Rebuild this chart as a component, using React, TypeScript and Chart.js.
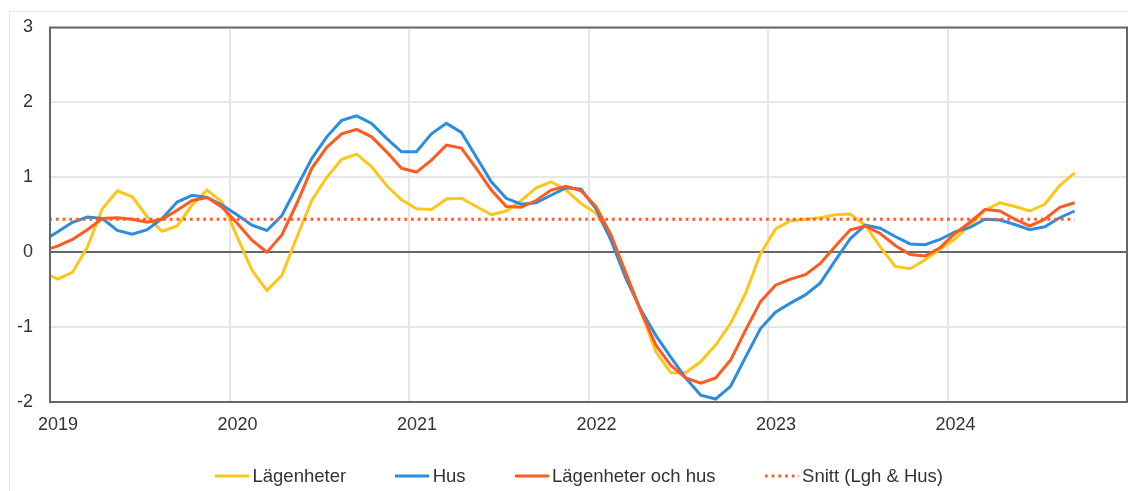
import React, { useEffect, useRef } from "react";
import { Chart, registerables } from "chart.js";

Chart.register(...registerables);

// Monthly observations (mid-month). The first one (Dec 2018) is clipped by the plot edge.
const FIRST_YEAR = 2018;
const FIRST_MONTH = 12;
const months: string[] = Array.from({ length: 70 }, (_, i) => {
  const t = FIRST_YEAR * 12 + (FIRST_MONTH - 1) + i;
  const y = Math.floor(t / 12);
  const m = (t % 12) + 1;
  return `${y}-${String(m).padStart(2, "0")}`;
});

const lagenheter = [
  -0.26, -0.36, -0.27, 0.07, 0.58, 0.82, 0.74, 0.47, 0.28, 0.35, 0.63, 0.83, 0.67,
  0.21, -0.24, -0.51, -0.31, 0.2, 0.69, 1.0, 1.24, 1.31, 1.14, 0.89, 0.7,
  0.58, 0.57, 0.71, 0.72, 0.61, 0.5, 0.55, 0.69, 0.86, 0.94, 0.83, 0.65,
  0.52, 0.2, -0.28, -0.79, -1.33, -1.61, -1.61, -1.46, -1.24, -0.95, -0.55, -0.02,
  0.31, 0.42, 0.44, 0.46, 0.5, 0.51, 0.36, 0.07, -0.19, -0.22, -0.1, 0.04,
  0.18, 0.36, 0.56, 0.66, 0.61, 0.55, 0.64, 0.89, 1.06,
];

const hus = [
  0.15, 0.27, 0.4, 0.47, 0.45, 0.29, 0.24, 0.3, 0.45, 0.67, 0.76, 0.73, 0.63,
  0.5, 0.36, 0.29, 0.49, 0.87, 1.25, 1.54, 1.76, 1.82, 1.72, 1.52, 1.34,
  1.34, 1.58, 1.72, 1.6, 1.27, 0.94, 0.72, 0.64, 0.66, 0.76, 0.86, 0.84,
  0.58, 0.16, -0.35, -0.77, -1.11, -1.4, -1.68, -1.91, -1.96, -1.79, -1.4, -1.02,
  -0.8, -0.68, -0.57, -0.41, -0.11, 0.18, 0.36, 0.32, 0.21, 0.11, 0.1, 0.17,
  0.27, 0.33, 0.44, 0.43, 0.37, 0.3, 0.34, 0.46, 0.55,
];

const lghOchHus = [
  0.02, 0.08, 0.17, 0.3, 0.45, 0.46, 0.44, 0.4, 0.44, 0.56, 0.69, 0.73, 0.6,
  0.39, 0.16, 0.0, 0.23, 0.65, 1.12, 1.4, 1.58, 1.64, 1.54, 1.34, 1.12,
  1.07, 1.23, 1.43, 1.39, 1.12, 0.83, 0.61, 0.6, 0.69, 0.83, 0.88, 0.82,
  0.61, 0.23, -0.28, -0.79, -1.24, -1.51, -1.68, -1.75, -1.68, -1.44, -1.04, -0.66,
  -0.44, -0.36, -0.3, -0.15, 0.08, 0.3, 0.35, 0.25, 0.09, -0.03, -0.05, 0.06,
  0.25, 0.4, 0.57, 0.55, 0.44, 0.35, 0.44, 0.6, 0.66,
];

// Average line: start and end of the period with its (constant) value
const snittMonths = ["2018-12", "2024-09"];
const snittValues = [0.44, 0.44];

const yearLabels = ["2019", "2020", "2021", "2022", "2023", "2024"];
const yTicks = [-2, -1, 0, 1, 2, 3];

const seriesNames = ["Lägenheter", "Hus", "Lägenheter och hus", "Snitt (Lgh & Hus)"];

const YELLOW = "#FFC61A";
const BLUE = "#2B8DDD";
const ORANGE = "#FF5A1F";
const TEXT = "#333333";
const FONT = "'Liberation Sans', Arial, sans-serif";

const toX = (m: string) => {
  const [y, mo] = m.split("-").map(Number);
  return (y - 2019) * 12 + (mo - 1) + 0.5;
};

const framePlugin = {
  id: "frame",
  afterDatasetsDraw(chart: any) {
    const { ctx, chartArea: a } = chart;
    ctx.save();
    ctx.strokeStyle = "#666666";
    ctx.lineWidth = 2;
    ctx.strokeRect(a.left, a.top, a.right - a.left, a.bottom - a.top);
    ctx.restore();
  },
};

function LegendLine({ color, dotted }: { color: string; dotted?: boolean }) {
  return (
    <svg width={34} height={6} style={{ display: "block", marginRight: 3.5 }}>
      <line
        x1={0}
        y1={3}
        x2={34}
        y2={3}
        stroke={color}
        strokeWidth={3}
        strokeDasharray={dotted ? "2.7 4" : undefined}
      />
    </svg>
  );
}

export default function App() {
  const canvasRef = useRef<HTMLCanvasElement | null>(null);

  useEffect(() => {
    if (!canvasRef.current) return;
    const mk = (vals: number[]) => months.map((m, i) => ({ x: toX(m), y: vals[i] }));
    const chart = new Chart(canvasRef.current, {
      type: "line",
      data: {
        datasets: [
          {
            label: seriesNames[0],
            data: mk(lagenheter),
            borderColor: YELLOW,
            backgroundColor: YELLOW,
            borderWidth: 3,
            pointRadius: 0,
            tension: 0,
            order: 3,
          },
          {
            label: seriesNames[1],
            data: mk(hus),
            borderColor: BLUE,
            backgroundColor: BLUE,
            borderWidth: 3,
            pointRadius: 0,
            tension: 0,
            order: 2,
          },
          {
            label: seriesNames[2],
            data: mk(lghOchHus),
            borderColor: ORANGE,
            backgroundColor: ORANGE,
            borderWidth: 3,
            pointRadius: 0,
            tension: 0,
            order: 1,
          },
          {
            label: seriesNames[3],
            data: snittMonths.map((m, i) => ({ x: toX(m), y: snittValues[i] })),
            borderColor: ORANGE,
            backgroundColor: ORANGE,
            borderWidth: 3,
            borderDash: [2.7, 4],
            pointRadius: 0,
            tension: 0,
            order: 0,
          },
        ],
      },
      options: {
        responsive: false,
        animation: false,
        events: [],
        layout: { padding: { left: 0, top: 27.5, right: 1, bottom: 49 } },
        plugins: { legend: { display: false }, tooltip: { enabled: false } },
        scales: {
          x: {
            type: "linear",
            min: 0,
            max: 72,
            afterBuildTicks: (s: any) => {
              s.ticks = [0, 12, 24, 36, 48, 60, 72].map((v) => ({ value: v }));
            },
            afterFit: (s: any) => {
              s.height = 40;
              s.paddingLeft = 0;
              s.paddingRight = 0;
            },
            ticks: {
              autoSkip: false,
              maxRotation: 0,
              padding: 12,
              labelOffset: 8,
              color: TEXT,
              font: { family: FONT, size: 18 },
              callback: (v: any) => yearLabels[Math.round(Number(v) / 12)] ?? "",
            },
            grid: { color: "#e6e6e6", lineWidth: 2, drawTicks: false },
            border: { display: false },
          },
          y: {
            min: -2,
            max: 3,
            afterBuildTicks: (s: any) => {
              s.ticks = yTicks.map((v) => ({ value: v }));
            },
            afterFit: (s: any) => {
              s.width = 50;
              s.paddingTop = 0;
              s.paddingBottom = 0;
            },
            ticks: {
              padding: 17,
              color: TEXT,
              font: { family: FONT, size: 18 },
              callback: (v: any) => String(v),
            },
            grid: {
              color: (c: any) => (c.tick && c.tick.value === 0 ? "#666666" : "#e6e6e6"),
              lineWidth: 2,
              drawTicks: false,
            },
            border: { display: false },
          },
        },
      },
      plugins: [framePlugin],
    });
    return () => chart.destroy();
  }, []);

  const legendItems = [
    { name: seriesNames[0], color: YELLOW, dotted: false },
    { name: seriesNames[1], color: BLUE, dotted: false },
    { name: seriesNames[2], color: ORANGE, dotted: false },
    { name: seriesNames[3], color: ORANGE, dotted: true },
  ];

  return (
    <div
      style={{
        position: "absolute",
        left: 0,
        top: 0,
        width: 1128,
        height: 491,
        background: "#ffffff",
        overflow: "hidden",
      }}
    >
      <div
        style={{
          position: "absolute",
          left: 9,
          top: 11,
          width: 1300,
          height: 600,
          borderLeft: "1px solid #e8e8e8",
          borderTop: "1px solid #e8e8e8",
        }}
      />
      <canvas
        ref={canvasRef}
        width={1128}
        height={491}
        style={{ position: "absolute", left: 0, top: 0, display: "block" }}
      />
      <div
        style={{
          position: "absolute",
          left: 215,
          top: 464,
          height: 24,
          display: "flex",
          alignItems: "center",
          gap: 49,
          fontFamily: FONT,
          fontSize: 18.5,
          color: TEXT,
          whiteSpace: "nowrap",
        }}
      >
        {legendItems.map((it) => (
          <div key={it.name} style={{ display: "flex", alignItems: "center", height: 24 }}>
            <LegendLine color={it.color} dotted={it.dotted} />
            <span style={{ lineHeight: "24px" }}>{it.name}</span>
          </div>
        ))}
      </div>
    </div>
  );
}
